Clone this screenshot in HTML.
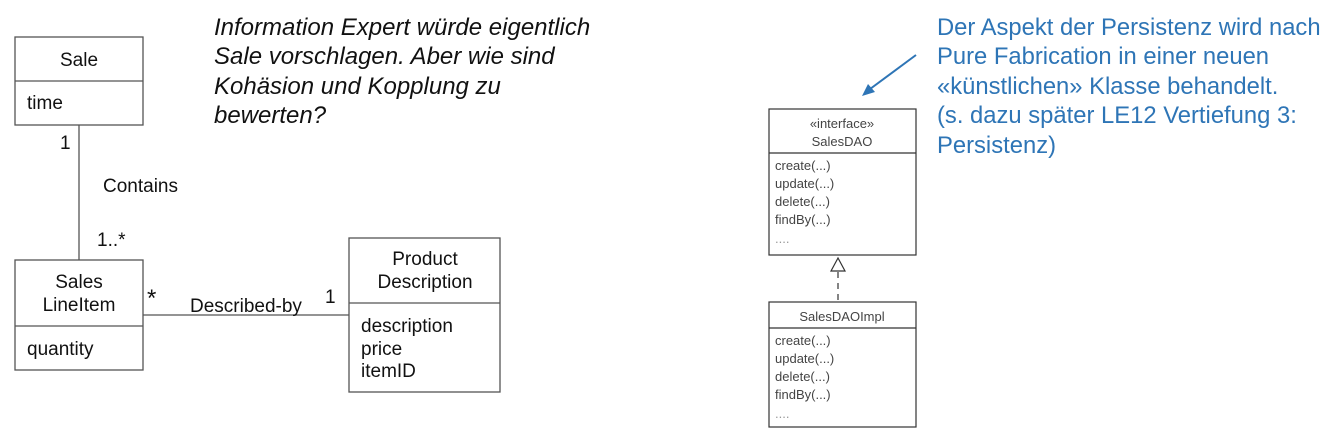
<!DOCTYPE html>
<html><head><meta charset="utf-8"><style>
html,body{margin:0;padding:0;background:#fff;width:1332px;height:439px;overflow:hidden}
svg{display:block}
text{font-family:"Liberation Sans",Arial,sans-serif}
</style></head><body>
<svg width="1332" height="439" viewBox="0 0 1332 439" xmlns="http://www.w3.org/2000/svg">
<g fill="none" stroke="#555" stroke-width="1.3">
<rect x="15" y="37" width="128" height="88"/><line x1="15" y1="81" x2="143" y2="81"/>
<rect x="15" y="260" width="128" height="110"/><line x1="15" y1="326" x2="143" y2="326"/>
<rect x="349" y="238" width="151" height="154"/><line x1="349" y1="303" x2="500" y2="303"/>
<line x1="79" y1="125" x2="79" y2="260"/>
<line x1="143" y1="315" x2="349" y2="315"/>
</g>
<g font-size="19" fill="#111">
<text x="79" y="66" text-anchor="middle">Sale</text>
<text x="27" y="109">time</text>
<text x="60" y="149">1</text>
<text x="103" y="192">Contains</text>
<text x="97" y="246">1..*</text>
<text x="79" y="288" text-anchor="middle">Sales</text>
<text x="79" y="311" text-anchor="middle">LineItem</text>
<text x="27" y="355">quantity</text>
<text x="147" y="306" font-size="24">*</text>
<text x="190" y="312">Described-by</text>
<text x="325" y="303">1</text>
<text x="425" y="265" text-anchor="middle">Product</text>
<text x="425" y="288" text-anchor="middle">Description</text>
<text x="361" y="332">description</text>
<text x="361" y="355">price</text>
<text x="361" y="377">itemID</text>
</g>
<g font-size="24" font-style="italic" fill="#111">
<text x="214" y="35">Information Expert würde eigentlich</text>
<text x="214" y="64">Sale vorschlagen. Aber wie sind</text>
<text x="214" y="94">Kohäsion und Kopplung zu</text>
<text x="214" y="123">bewerten?</text>
</g>
<g font-size="23.8" fill="#2e75b6">
<text x="937" y="35">Der Aspekt der Persistenz wird nach</text>
<text x="937" y="64">Pure Fabrication in einer neuen</text>
<text x="937" y="94">«künstlichen» Klasse behandelt.</text>
<text x="937" y="123">(s. dazu später LE12 Vertiefung 3:</text>
<text x="937" y="153">Persistenz)</text>
</g>
<line x1="916" y1="55" x2="866" y2="92" stroke="#2e75b6" stroke-width="2"/>
<polygon points="862,96 868,84 875,92" fill="#2e75b6"/>
<g fill="none" stroke="#333" stroke-width="1.2">
<rect x="769" y="109" width="147" height="146"/><line x1="769" y1="153" x2="916" y2="153"/>
<rect x="769" y="302" width="147" height="125"/><line x1="769" y1="328" x2="916" y2="328"/>
<polygon points="838,258 831,271 845,271" fill="#fff"/>
<line x1="838" y1="272" x2="838" y2="300" stroke-dasharray="6,5"/>
</g>
<g font-size="13" fill="#444">
<text x="842" y="128" text-anchor="middle">«interface»</text>
<text x="842" y="146" text-anchor="middle">SalesDAO</text>
<text x="775" y="170">create(...)</text>
<text x="775" y="188">update(...)</text>
<text x="775" y="206">delete(...)</text>
<text x="775" y="224">findBy(...)</text>
<text x="775" y="243" fill="#999">....</text>
<text x="842" y="321" text-anchor="middle">SalesDAOImpl</text>
<text x="775" y="345">create(...)</text>
<text x="775" y="363">update(...)</text>
<text x="775" y="381">delete(...)</text>
<text x="775" y="399">findBy(...)</text>
<text x="775" y="418" fill="#999">....</text>
</g>
</svg>
</body></html>
